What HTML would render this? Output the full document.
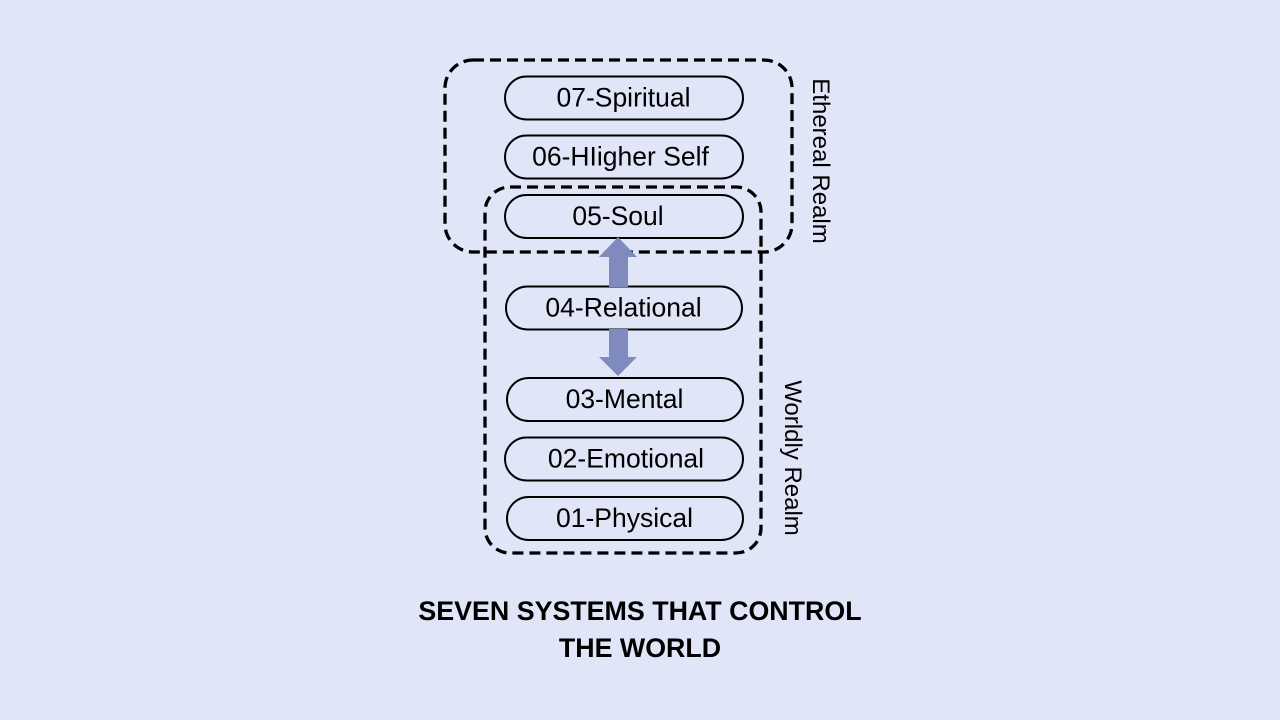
<!DOCTYPE html>
<html>
<head>
<meta charset="utf-8">
<style>
  html, body { margin: 0; padding: 0; }
  body { width: 1280px; height: 720px; background: #e0e5f7; overflow: hidden; }
  svg { display: block; }
  text { font-family: "Liberation Sans", Arial, sans-serif; fill: #000; }
</style>
</head>
<body>
<svg width="1280" height="720" viewBox="0 0 1280 720" xmlns="http://www.w3.org/2000/svg">
  <rect x="0" y="0" width="1280" height="720" fill="#e0e5f7"/>

  <!-- Pills -->
  <g fill="none" stroke="#000" stroke-width="2">
    <rect x="505" y="76.5" width="238" height="43" rx="21.5"/>
    <rect x="505" y="135.5" width="238" height="43" rx="21.5"/>
    <rect x="505" y="195" width="238" height="43" rx="21.5"/>
    <rect x="506" y="286.5" width="236" height="43" rx="21.5"/>
    <rect x="507" y="378" width="236" height="43" rx="21.5"/>
    <rect x="505" y="437.5" width="238" height="43" rx="21.5"/>
    <rect x="507" y="497" width="236" height="43" rx="21.5"/>
  </g>

  <!-- Dashed realm boxes -->
  <g fill="none" stroke="#000" stroke-width="3.3" stroke-dasharray="11 6">
    <rect x="445" y="60" width="347" height="192" rx="28"/>
    <rect x="485" y="187" width="276" height="366" rx="25"/>
  </g>

  <!-- Arrows -->
  <g fill="#7f8bbf">
    <polygon points="618,237 637,257 628,257 628,287 609,287 609,257 599,257"/>
    <polygon points="609,329 628,329 628,357 637,357 618,376 599,357 609,357"/>
  </g>

  <!-- Pill labels -->
  <g font-size="26.5" text-anchor="middle">
    <text x="623.5" y="106.5">07-Spiritual</text>
    <text x="620.5" y="165.5">06-HIigher Self</text>
    <text x="618" y="225">05-Soul</text>
    <text x="623.5" y="316.5">04-Relational</text>
    <text x="624.5" y="408">03-Mental</text>
    <text x="626" y="467.5">02-Emotional</text>
    <text x="624.5" y="527">01-Physical</text>
  </g>

  <!-- Rotated realm labels -->
  <text font-size="24" text-anchor="middle" transform="translate(813,161) rotate(90)">Ethereal Realm</text>
  <text font-size="24" text-anchor="middle" transform="translate(785,458) rotate(90)">Worldly Realm</text>

  <!-- Title -->
  <g font-size="26.8" font-weight="bold" text-anchor="middle">
    <text x="640" y="620">SEVEN SYSTEMS THAT CONTROL</text>
    <text x="640" y="657">THE WORLD</text>
  </g>
</svg>
</body>
</html>
